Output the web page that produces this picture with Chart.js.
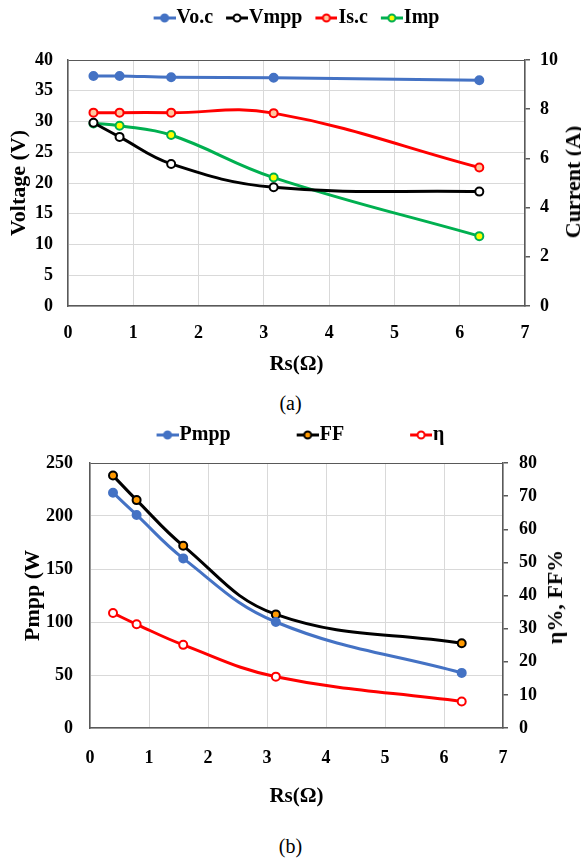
<!DOCTYPE html>
<html>
<head>
<meta charset="utf-8">
<script src="https://cdn.jsdelivr.net/npm/chart.js@4.4.1/dist/chart.umd.min.js"></script>
<style>
    body { margin: 0; background: #fff; }
    #page { position: relative; width: 581px; height: 863px; font-family: 'Liberation Serif', 'Times New Roman', serif; }
    canvas { position: absolute; left: 0; }
    .caption { position: absolute; width: 581px; text-align: center; font-size: 20px; }
    .rtitle { position: absolute; font-weight: bold; font-size: 22px; white-space: nowrap;
              transform: translate(-50%, -50%) rotate(-90deg); }
</style>
</head>
<body>
<div id="page">
    <canvas id="chartA" width="581" height="385" style="top:0"></canvas>
    <canvas id="chartB" width="581" height="400" style="top:420px"></canvas>
    <div class="rtitle" style="left:573px; top:182px">Current (A)</div>
    <div class="rtitle" style="left:555px; top:597px">η%, FF%</div>
    <div class="caption" style="top:392px">(a)</div>
    <div class="caption" style="top:835px">(b)</div>
</div>
<script>
// Datos
const rsValues = [0.39, 0.79, 1.58, 3.15, 6.3];

// (a) tensiones y corrientes
const vocValues = [37.4, 37.4, 37.2, 37.1, 36.7];
const vmppValues = [29.8, 27.5, 23.1, 19.3, 18.6];
const iscValues = [7.86, 7.86, 7.86, 7.84, 5.63];
const impValues = [7.42, 7.33, 6.95, 5.22, 2.84];

// (b) potencia, FF y eficiencia
const pmppValues = [222, 201, 160, 100, 52];
const ffValues = [76.2, 68.8, 55.0, 34.3, 25.6];
const etaValues = [34.7, 31.3, 25.1, 15.5, 8.0];

// Ejes
const xTicks = [0, 1, 2, 3, 4, 5, 6, 7];
const voltTicks = [0, 5, 10, 15, 20, 25, 30, 35, 40];
const currTicks = [0, 2, 4, 6, 8, 10];
const powerTicks = [0, 50, 100, 150, 200, 250];
const pctTicks = [0, 10, 20, 30, 40, 50, 60, 70, 80];

const colors = {
    blue: '#4472C4',
    black: '#000000',
    red: '#FF0000',
    green: '#00B050',
    axis: '#595959',
    grid: '#d9d9d9'
};

const serif = "'Liberation Serif', 'Times New Roman', serif";
Chart.defaults.font.family = serif;
Chart.defaults.font.weight = 'bold';
Chart.defaults.font.size = 18;
Chart.defaults.color = '#000';

function toPoints(ys) {
    return rsValues.map((x, i) => ({ x: x, y: ys[i] }));
}

// Marcador de leyenda: línea con círculo
function legendMarker(line, fill, border) {
    const c = document.createElement('canvas');
    c.width = 31;
    c.height = 12;
    const ctx = c.getContext('2d');
    ctx.strokeStyle = line;
    ctx.lineWidth = 3;
    ctx.beginPath();
    ctx.moveTo(9, 6);
    ctx.lineTo(31, 6);
    ctx.stroke();
    ctx.beginPath();
    ctx.arc(20, 6, 3.5, 0, Math.PI * 2);
    ctx.fillStyle = fill;
    ctx.fill();
    ctx.lineWidth = 2;
    ctx.strokeStyle = border;
    ctx.stroke();
    return c;
}

function series(label, ys, color, fill, axis) {
    return {
        label: label,
        data: toPoints(ys),
        yAxisID: axis,
        borderColor: color,
        backgroundColor: color,
        borderWidth: 3,
        tension: 0.4,
        pointRadius: 4,
        pointBorderWidth: 2,
        pointBorderColor: color,
        pointBackgroundColor: fill,
        marker: legendMarker(color, fill, color)
    };
}

// Altura fija de la leyenda
const legendHeight = {
    id: 'legendHeight',
    beforeInit(chart, args, opts) {
        const fit = chart.legend.fit;
        chart.legend.fit = function () {
            fit.call(this);
            this.height = opts.height;
        };
    }
};

function fixWidth(w) {
    return function (scale) { scale.width = w; };
}
function fixHeight(h) {
    return function (scale) { scale.height = h; };
}

function gridColor(max) {
    return ctx => (ctx.tick && ctx.tick.value === max) ? colors.axis : colors.grid;
}

function makeChart(id, cfg) {
    return new Chart(document.getElementById(id).getContext('2d'), {
        type: 'line',
        data: { datasets: cfg.datasets },
        plugins: [legendHeight],
        options: {
            responsive: false,
            animation: false,
            layout: { padding: { top: cfg.padTop, left: cfg.padLeft, right: -cfg.padLeft, bottom: 0 } },
            plugins: {
                legendHeight: { height: cfg.legendH },
                tooltip: { enabled: false },
                legend: {
                    position: 'top',
                    fullSize: cfg.fullSize,
                    labels: {
                        usePointStyle: true,
                        pointStyleWidth: 13,
                        padding: cfg.legendPad,
                        font: { size: 20, weight: 'bold' },
                        generateLabels: function (chart) {
                            return chart.data.datasets.map((ds, i) => ({
                                text: ds.label,
                                pointStyle: ds.marker,
                                fillStyle: ds.borderColor,
                                strokeStyle: ds.borderColor,
                                lineWidth: 0,
                                hidden: false,
                                datasetIndex: i
                            }));
                        }
                    }
                }
            },
            scales: {
                x: {
                    type: 'linear',
                    min: 0,
                    max: 7,
                    afterFit: fixHeight(cfg.xHeight),
                    afterBuildTicks: scale => { scale.ticks = xTicks.map(v => ({ value: v })); },
                    border: { color: colors.axis, width: 1.5 },
                    grid: { color: colors.grid, drawTicks: false },
                    ticks: { padding: cfg.xTickPad },
                    title: {
                        display: true,
                        text: 'Rs(Ω)',
                        font: { size: 21, weight: 'bold' },
                        padding: { top: 0, bottom: cfg.xTitlePad }
                    }
                },
                y: {
                    position: 'left',
                    min: 0,
                    max: cfg.leftTicks[cfg.leftTicks.length - 1],
                    afterFit: fixWidth(cfg.leftW),
                    afterBuildTicks: scale => { scale.ticks = cfg.leftTicks.map(v => ({ value: v })); },
                    border: { color: colors.axis, width: 1.5 },
                    grid: { color: gridColor(cfg.leftTicks[cfg.leftTicks.length - 1]), drawTicks: false },
                    ticks: { padding: cfg.leftTickPad },
                    title: {
                        display: true,
                        text: cfg.leftTitle,
                        font: { size: 22, weight: 'bold' },
                        padding: { top: cfg.leftTitlePad, bottom: 0 }
                    }
                },
                y2: {
                    position: 'right',
                    min: 0,
                    max: cfg.rightTicks[cfg.rightTicks.length - 1],
                    afterFit: fixWidth(cfg.rightW),
                    afterBuildTicks: scale => { scale.ticks = cfg.rightTicks.map(v => ({ value: v })); },
                    border: { color: colors.axis, width: 1.5 },
                    grid: { drawOnChartArea: false, color: colors.axis, tickLength: 5, lineWidth: 1.5 },
                    ticks: { padding: cfg.rightTickPad }
                }
            }
        }
    });
}

// Gráfico (a)
makeChart('chartA', {
    datasets: [
        series('Vo.c', vocValues, colors.blue, colors.blue, 'y'),
        series('Vmpp', vmppValues, colors.black, '#ffffff', 'y'),
        series('Is.c', iscValues, colors.red, '#ffc8a0', 'y2'),
        series('Imp', impValues, colors.green, '#ffff00', 'y2')
    ],
    padTop: -5,
    padLeft: 0,
    legendH: 65,
    legendPad: 13,
    fullSize: false,
    xHeight: 79,
    xTickPad: 17,
    xTitlePad: 8,
    leftW: 68,
    rightW: 56,
    leftTicks: voltTicks,
    rightTicks: currTicks,
    leftTickPad: 15,
    rightTickPad: 10,
    leftTitle: 'Voltage (V)',
    leftTitlePad: 6
});

// Gráfico (b)
makeChart('chartB', {
    datasets: [
        series('Pmpp', pmppValues, colors.blue, colors.blue, 'y'),
        series('FF', ffValues, colors.black, '#ff9900', 'y2'),
        series('η', etaValues, colors.red, '#ffffff', 'y2')
    ],
    padTop: -61,
    padLeft: 10,
    legendH: 104,
    legendPad: 66,
    fullSize: true,
    xHeight: 92,
    xTickPad: 20,
    xTitlePad: 11,
    leftW: 80,
    rightW: 88,
    leftTicks: powerTicks,
    rightTicks: pctTicks,
    leftTickPad: 17,
    rightTickPad: 11,
    leftTitle: 'Pmpp (W',
    leftTitlePad: 10
});
</script>
</body>
</html>
